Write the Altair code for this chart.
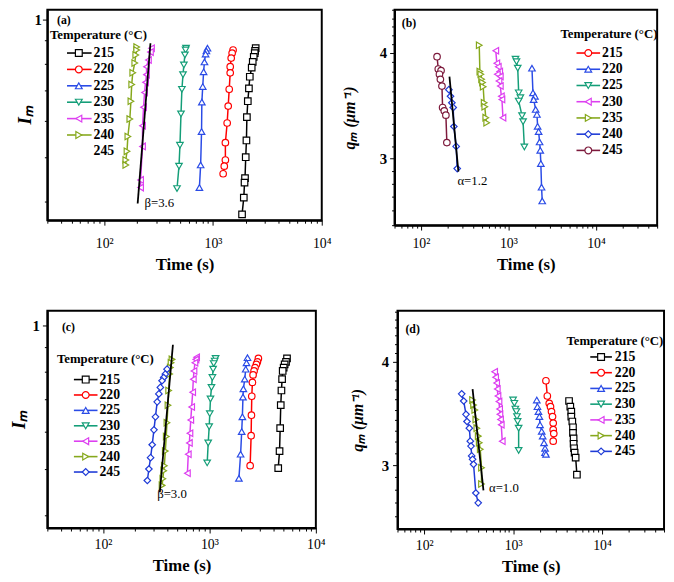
import altair as alt
import pandas as pd

FONT = "Liberation Serif"
TEMPS = ['215', '220', '225', '230', '235', '240', '245']

# ---------------- panel (a): I_m vs time ----------------
a215_t = [2470, 2440, 2420, 2370, 2320, 2270, 2180, 2140, 2090, 2050, 2030, 2000, 1970, 1950, 1920, 1850]
a215_y = [0.866, 0.854, 0.845, 0.829, 0.808, 0.785, 0.750, 0.707, 0.663, 0.612, 0.544, 0.500, 0.450, 0.440, 0.408, 0.375]
a220_t = [1530, 1500, 1470, 1440, 1440, 1410, 1380, 1350, 1300, 1300, 1270, 1240]
a220_y = [0.858, 0.845, 0.824, 0.789, 0.765, 0.704, 0.647, 0.594, 0.538, 0.493, 0.478, 0.460]
a225_t = [890, 870, 855, 835, 820, 805, 790, 785, 770, 750]
a225_y = [0.866, 0.854, 0.841, 0.808, 0.769, 0.714, 0.660, 0.569, 0.481, 0.429]
a230_t = [565, 560, 552, 540, 530, 518, 508, 497, 487, 467]
a230_y = [0.866, 0.858, 0.837, 0.796, 0.758, 0.704, 0.622, 0.531, 0.478, 0.427]
a235_t = [272, 266, 255, 245, 245, 240, 235, 230, 225, 225, 216, 216]
a235_y = [0.866, 0.849, 0.816, 0.789, 0.758, 0.729, 0.693, 0.643, 0.586, 0.528, 0.446, 0.429]
a240_t = [199, 199, 195, 191, 183, 179, 176, 172, 165, 162, 158, 158]
a240_y = [0.871, 0.858, 0.837, 0.804, 0.765, 0.721, 0.663, 0.606, 0.555, 0.515, 0.493, 0.481]
a_fit_t = [266, 203]
a_fit_y = [0.888, 0.396]
a_legend_marked = ['215', '220', '225', '230', '235', '240']

# ---------------- panel (b): q_m vs time ----------------
b220_t = [1858, 1907, 2010, 1941, 2047, 2118, 2156, 2213, 2270, 2310, 2346, 2391, 2434]
b220_y = [3.838, 3.588, 3.555, 3.523, 3.429, 3.383, 3.274, 3.228, 3.138, 3.067, 2.958, 2.773, 2.671]
b225_t = [1205, 1236, 1277, 1310, 1370, 1310, 1430, 1470, 1520]
b225_y = [3.933, 3.907, 3.838, 3.588, 3.541, 3.508, 3.371, 3.316, 3.095]
b230_t = [717, 737, 766, 795, 747, 808, 780, 808, 830, 843, 866]
b230_y = [4.025, 3.890, 3.854, 3.804, 3.775, 3.751, 3.706, 3.655, 3.555, 3.523, 3.353]
b235_t = [464, 472, 484, 494, 506, 515, 528, 537, 551, 565]
b235_y = [4.087, 3.804, 3.775, 3.723, 3.690, 3.648, 3.492, 3.455, 3.353, 3.307]
b240_t = [209, 218, 226, 234, 238, 253, 260]
b240_y = [3.619, 3.555, 3.492, 3.447, 3.273, 3.100, 2.918]
b245_t = [153, 158, 170, 163, 167, 174, 177, 185, 193, 198]
b245_y = [3.960, 3.829, 3.813, 3.775, 3.723, 3.655, 3.447, 3.416, 3.376, 3.132]
b_fit_t = [212, 268]
b_fit_y = [3.751, 2.893]
b_legend_marked = TEMPS

# ---------------- panel (c): I_m vs time ----------------
c215_t = [5358, 5245, 5092, 4986, 4880, 4818, 4750, 4680, 4620, 4560, 4430]
c215_y = [0.853, 0.839, 0.829, 0.816, 0.803, 0.772, 0.731, 0.681, 0.610, 0.546, 0.503]
c220_t = [2884, 2824, 2765, 2684, 2627, 2572, 2536, 2500, 2482, 2465, 2413]
c220_y = [0.853, 0.839, 0.829, 0.816, 0.803, 0.788, 0.760, 0.711, 0.649, 0.588, 0.509]
c225_t = [2279, 2231, 2193, 2147, 2085, 2066, 2040, 2010, 1963, 1892]
c225_y = [0.856, 0.835, 0.810, 0.772, 0.737, 0.708, 0.644, 0.600, 0.538, 0.479]
c230_t = [1143, 1120, 1097, 1083, 1067, 1045, 1023, 1008, 995, 974, 953]
c230_y = [0.853, 0.842, 0.832, 0.810, 0.778, 0.742, 0.702, 0.654, 0.614, 0.568, 0.516]
c235_t = [758, 747, 731, 716, 706, 696, 681, 668, 656, 648, 633, 621]
c235_y = [0.858, 0.849, 0.835, 0.803, 0.772, 0.725, 0.675, 0.634, 0.595, 0.568, 0.538, 0.491]
c240_t = [445, 436, 429, 423, 414, 408, 399, 393, 385, 377, 372, 365, 359]
c240_y = [0.849, 0.835, 0.816, 0.791, 0.731, 0.681, 0.626, 0.586, 0.546, 0.509, 0.497, 0.478, 0.463]
c245_t = [400, 385, 372, 359, 346, 335, 323, 311, 301, 290, 280, 270, 261]
c245_y = [0.810, 0.791, 0.778, 0.766, 0.742, 0.719, 0.692, 0.644, 0.605, 0.563, 0.529, 0.501, 0.474]
c_fit_t = [454, 342]
c_fit_y = [0.911, 0.448]
c_legend_marked = TEMPS

# ---------------- panel (d): q_m vs time ----------------
d215_t = [4266, 4406, 4520, 4520, 4642, 4722, 4722, 4800, 4800, 4853, 4930, 5060, 5230]
d215_y = [3.586, 3.530, 3.482, 3.434, 3.387, 3.333, 3.281, 3.231, 3.184, 3.144, 3.106, 3.063, 2.921]
d220_t = [2343, 2429, 2552, 2637, 2707, 2779, 2829, 2829, 2872, 2829]
d220_y = [3.794, 3.636, 3.563, 3.530, 3.482, 3.434, 3.372, 3.311, 3.275, 3.207]
d225_t = [1848, 1880, 1929, 1978, 2010, 2100, 2154, 2230, 2290, 2290, 2344]
d225_y = [3.596, 3.530, 3.482, 3.434, 3.357, 3.296, 3.252, 3.192, 3.144, 3.106, 3.092]
d230_t = [1000, 1034, 1060, 1088, 1106, 1125, 1155, 1155]
d230_y = [3.596, 3.563, 3.506, 3.482, 3.434, 3.387, 3.325, 3.125]
d235_t = [620, 636, 653, 664, 676, 694, 705, 711, 722, 736, 755]
d235_y = [3.891, 3.831, 3.770, 3.707, 3.636, 3.580, 3.506, 3.455, 3.406, 3.357, 3.207]
d240_t = [350, 359, 371, 381, 391, 405, 416, 427, 441, 441]
d240_y = [3.596, 3.546, 3.497, 3.406, 3.325, 3.252, 3.192, 3.136, 2.978, 2.846]
d245_t = [264, 278, 295, 303, 322, 330, 336, 342, 350, 359, 381, 405]
d245_y = [3.658, 3.586, 3.455, 3.387, 3.325, 3.207, 3.163, 3.078, 3.049, 3.007, 2.776, 2.701]
d_fit_t = [350, 464]
d_fit_y = [3.707, 2.796]
d_legend_marked = TEMPS

# ---------------- styles ----------------
BLACK, RED, BLUE, GREEN = '#000000', '#ff0000', '#2a4be6', '#149e78'
MAGENTA, OLIVE, MAROON, DBLUE = '#dd3ff0', '#86a81c', '#7d1a3c', '#1e3ad6'
colors_a = [BLACK, RED, BLUE, GREEN, MAGENTA, OLIVE, BLACK]
shapes_a = ['square', 'circle', 'triangle-up', 'triangle-down', 'triangle-left', 'triangle-right', 'circle']
colors_b = [RED, BLUE, GREEN, MAGENTA, OLIVE, DBLUE, MAROON]
shapes_b = ['circle', 'triangle-up', 'triangle-down', 'triangle-left', 'triangle-right', 'diamond', 'circle']
colors_cd = [BLACK, RED, BLUE, GREEN, MAGENTA, OLIVE, DBLUE]
shapes_cd = ['square', 'circle', 'triangle-up', 'triangle-down', 'triangle-left', 'triangle-right', 'diamond']

series_a = {'215': (a215_t, a215_y), '220': (a220_t, a220_y), '225': (a225_t, a225_y),
            '230': (a230_t, a230_y), '235': (a235_t, a235_y), '240': (a240_t, a240_y)}
series_b = {'220': (b220_t, b220_y), '225': (b225_t, b225_y), '230': (b230_t, b230_y),
            '235': (b235_t, b235_y), '240': (b240_t, b240_y), '245': (b245_t, b245_y)}
series_c = {'215': (c215_t, c215_y), '220': (c220_t, c220_y), '225': (c225_t, c225_y),
            '230': (c230_t, c230_y), '235': (c235_t, c235_y), '240': (c240_t, c240_y),
            '245': (c245_t, c245_y)}
series_d = {'215': (d215_t, d215_y), '220': (d220_t, d220_y), '225': (d225_t, d225_y),
            '230': (d230_t, d230_y), '235': (d235_t, d235_y), '240': (d240_t, d240_y),
            '245': (d245_t, d245_y)}


def log_ticks(lo, hi):
    vals = []
    for dec in [10, 100, 1000, 10000]:
        for m in range(1, 10):
            v = m * dec
            if lo <= v <= hi:
                vals.append(v)
    return vals


IM_TICKS = [0.4, 0.5, 0.6, 0.7, 0.8, 0.9, 1.0]
X_MAJOR = "datum.value == 100 || datum.value == 1000 || datum.value == 10000"
X_LABELS = "datum.value == 100 ? '10\u00b2' : datum.value == 1000 ? '10\u00b3' : datum.value == 10000 ? '10\u2074' : ''"


def make_df(series):
    rows = []
    for T, (ts, vs) in series.items():
        for i, (t, v) in enumerate(zip(ts, vs)):
            rows.append({'T': T, 't': t, 'v': v, 'i': i})
    return pd.DataFrame(rows)


def panel(series, marked, colors, shapes, xdom, ydom, is_q, w, h, ylab_pad, ytitle_pad,
          fit_t, fit_y, note, note_xy, tag, tag_xy, leg, xlab_pad=5):
    df = make_df(series)
    if is_q:
        yvals = [round(0.1 * k, 1) for k in range(25, 47) if ydom[0] <= 0.1 * k <= ydom[1]]
        ymajor = "datum.value == 3 || datum.value == 4"
        ylab = "datum.value == 3 ? '3' : datum.value == 4 ? '4' : ''"
        ytitle, ytsize = 'q\u2098 (\u03bcm\u207b\u00b9)', 16
    else:
        yvals, ymajor = IM_TICKS, "datum.value == 1"
        ylab = "datum.value == 1 ? '1' : ''"
        ytitle, ytsize = 'I\u2098', 19

    xaxis = alt.Axis(values=log_ticks(xdom[0], xdom[1]), labelExpr=X_LABELS,
                     tickSize={"condition": {"test": X_MAJOR, "value": 5}, "value": 3},
                     labelOverlap=False, labelFlush=False, labelFontSize=14,
                     labelPadding=xlab_pad, title='Time (s)', titleFontSize=17, grid=False,
                     titleFontWeight='bold', titlePadding=6)
    yaxis = alt.Axis(values=yvals, labelExpr=ylab, grid=False,
                     tickSize={"condition": {"test": ymajor, "value": 5}, "value": 3},
                     labelOverlap=False, labelFlush=False, labelFontSize=15,
                     labelFontWeight='bold', labelPadding=ylab_pad, title=ytitle,
                     titleFontSize=ytsize, titleFontWeight='bold',
                     titleFontStyle='italic', titlePadding=ytitle_pad)
    x = alt.X('t:Q', scale=alt.Scale(type='log', domain=xdom), axis=xaxis)
    y = alt.Y('v:Q', scale=alt.Scale(type='log', domain=ydom), axis=yaxis)
    xs = alt.X('t:Q', scale=alt.Scale(type='log', domain=xdom))
    ys = alt.Y('v:Q', scale=alt.Scale(type='log', domain=ydom))
    stroke = alt.Stroke('T:N', scale=alt.Scale(domain=TEMPS, range=colors), legend=None)
    shape = alt.Shape('T:N', scale=alt.Scale(domain=TEMPS, range=shapes), legend=None)

    lines = alt.Chart(df).mark_line(strokeWidth=1.5).encode(
        x=x, y=y, stroke=stroke, detail='T:N', order=alt.Order('i:Q'))
    pts = alt.Chart(df).mark_point(filled=True, fill='white', opacity=1, size=44,
                                   strokeWidth=1.2).encode(x=xs, y=ys, stroke=stroke, shape=shape)
    fit = alt.Chart(pd.DataFrame({'t': fit_t, 'v': fit_y})).mark_line(
        color='black', strokeWidth=1.8).encode(x=xs, y=ys)
    note_l = alt.Chart(pd.DataFrame({'t': [note_xy[0]], 'v': [note_xy[1]], 's': [note]})).mark_text(
        font=FONT, color='black', baseline='middle', align='center', fontSize=13).encode(
        x=xs, y=ys, text='s:N')
    tag_l = alt.Chart(pd.DataFrame({'t': [tag_xy[0]], 'v': [tag_xy[1]], 's': [tag]})).mark_text(
        font=FONT, color='black', baseline='middle', align='center', fontSize=12,
        fontWeight='bold').encode(x=xs, y=ys, text='s:N')
    data_layer = alt.layer(lines, pts, fit, note_l, tag_l)

    # hand-drawn legend (line through marker), placed with its own point scale
    lx0, lx1, lsym, ltxt, tx, ty, y0, y1 = leg
    ldf = pd.DataFrame({'T': TEMPS, 'has': [T in marked for T in TEMPS]})
    ly = alt.Y('T:N', scale=alt.Scale(type='point', domain=TEMPS, range=[y0, y1], padding=0), axis=None)
    lrule = alt.Chart(ldf).transform_filter('datum.has').mark_rule(strokeWidth=1.6).encode(
        x=alt.value(lx0), x2=alt.value(lx1), y=ly, stroke=stroke)
    lpts = alt.Chart(ldf).transform_filter('datum.has').mark_point(
        filled=True, fill='white', opacity=1, size=48, strokeWidth=1.2).encode(
        x=alt.value(lsym), y=ly, stroke=stroke, shape=shape)
    ltext = alt.Chart(ldf).mark_text(font=FONT, fontSize=14, fontWeight='bold', align='left',
                                      baseline='middle', color='black').encode(
        x=alt.value(ltxt), y=ly, text='T:N')
    ltitle = alt.Chart(pd.DataFrame({'s': ['Temperature (\u00b0C)']})).mark_text(
        font=FONT, fontSize=13, fontWeight='bold', align='center', baseline='middle',
        color='black').encode(x=alt.value(tx), y=alt.value(ty), text='s:N')
    legend_layer = alt.layer(lrule, lpts, ltext, ltitle)

    return alt.layer(data_layer, legend_layer).resolve_scale(y='independent').properties(
        width=w, height=h, view=alt.ViewBackground(stroke='black', strokeWidth=2))


pa = panel(series_a, a_legend_marked, colors_a, shapes_a, [30, 10000], [0.364, 1.051], False,
           279, 214, 1, 0,
           a_fit_t, a_fit_y, '\u03b2=3.6', (321, 0.396), '(a)', (42.6, 1.0),
           (20, 45, 32, 47, 52, 26, 44, 144), xlab_pad=12)
pb = panel(series_b, b_legend_marked, colors_b, shapes_b, [50, 50000], [2.5, 4.502], True,
           267, 219, 3, 22,
           b_fit_t, b_fit_y, '\u03b1=1.2', (387, 2.822), '(b)', (73, 4.346),
           (185, 209, 197, 211, 218, 25, 44, 143), xlab_pad=7)
pc = panel(series_c, c_legend_marked, colors_cd, shapes_cd, [30, 10000], [0.377, 1.073], False,
           273, 221, 3, 4,
           c_fit_t, c_fit_y, '\u03b2=3.0', (445, 0.444), '(c)', (47.4, 0.992),
           (27, 51, 39, 53, 59, 49, 70, 164))
pd_ = panel(series_d, d_legend_marked, colors_cd, shapes_cd, [50, 50000], [2.511, 4.61], True,
            271, 222, 4, 16,
            d_fit_t, d_fit_y, '\u03b1=1.0', (788, 2.817), '(d)', (74, 4.38),
            (196, 218, 207, 221, 221, 31, 47, 143))

row1 = alt.hconcat(pa, pb, spacing=8).resolve_scale(stroke='independent', shape='independent')
row2 = alt.hconcat(pc, pd_, spacing=22).resolve_scale(stroke='independent', shape='independent')

chart = alt.vconcat(row1, row2, spacing=30).resolve_scale(
    stroke='independent', shape='independent').properties(
    padding={'left': 0, 'top': -11, 'right': 0, 'bottom': 0}
).configure(font=FONT, background='white').configure_view(
    stroke='black', strokeWidth=2).configure_axis(
    labelFont=FONT, titleFont=FONT, labelColor='black', titleColor='black',
    domainColor='black', domainWidth=2, tickColor='black', tickWidth=1, grid=False)

chart.save("out.html", embed_options={"renderer": "svg", "actions": False})
